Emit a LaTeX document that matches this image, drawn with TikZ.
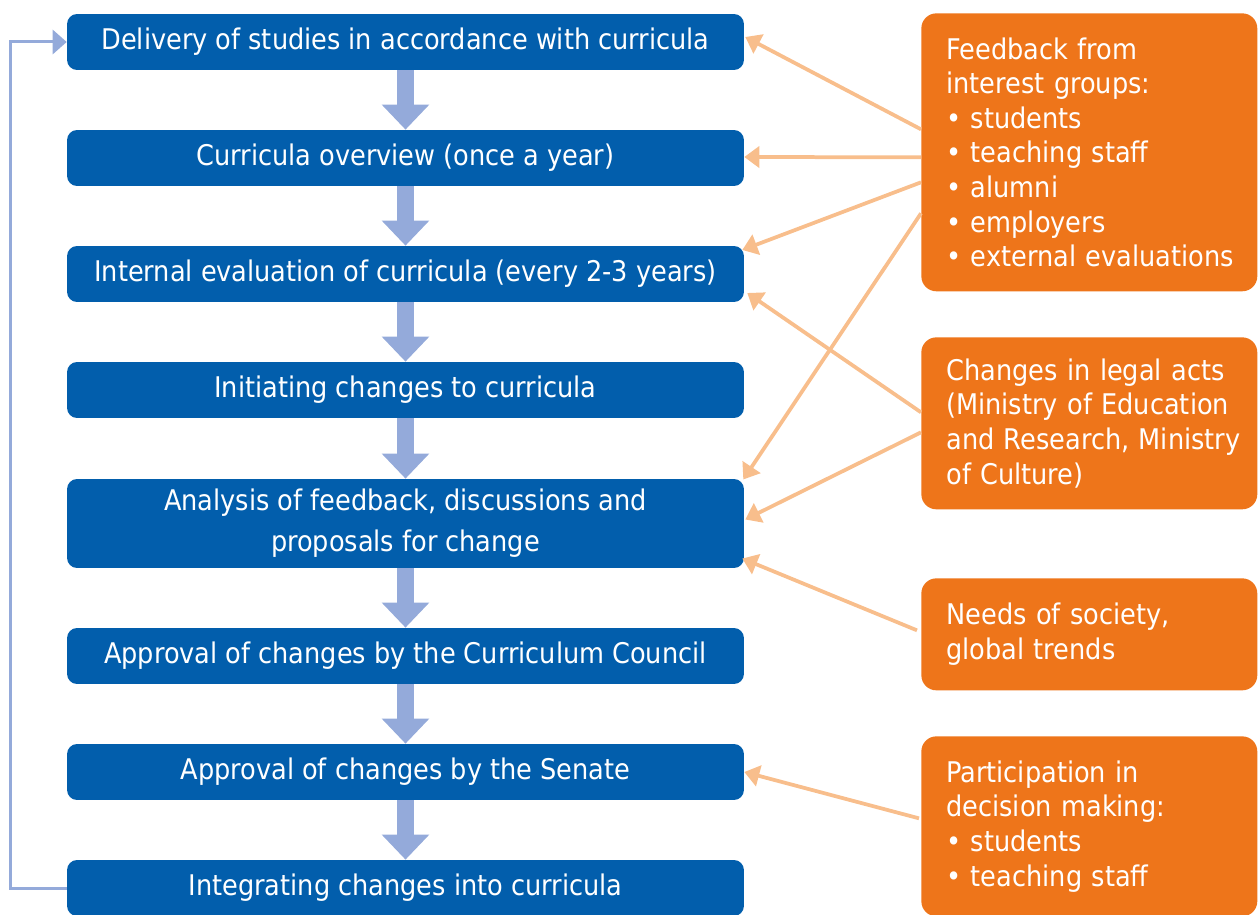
\documentclass[tikz,border=0pt]{standalone}
\usepackage{fontspec}
\setmainfont{DejaVu Sans Condensed}
\usetikzlibrary{arrows.meta,calc}

\definecolor{boxblue}{RGB}{2,94,172}
\definecolor{boxorange}{RGB}{238,117,26}
\definecolor{flowblue}{RGB}{148,170,218}
\definecolor{linkorange}{RGB}{248,190,140}

\begin{document}
\begin{tikzpicture}[x=0.02cm, y=-0.02cm,
		stepbox/.style={rectangle,rounded corners=0.2cm,fill=boxblue,text=white,
			minimum width=13.54cm,minimum height=1.12cm,inner sep=0pt,align=center,
			font=\fontsize{16.2}{23.3}\selectfont},
		srcbox/.style={rectangle,rounded corners=0.3cm,fill=boxorange,text=white,
			anchor=north west,minimum width=6.72cm,text width=5.72cm,inner xsep=0.5cm,
			align=left,font=\fontsize{16.2}{19.7}\selectfont},
		flow_style/.style={draw=flowblue,line width=0.34cm,
			-{Triangle[width=0.92cm,length=0.5cm]}},
		loop_style/.style={draw=flowblue,line width=0.06cm,
			-{Triangle[width=0.48cm,length=0.28cm]}},
		link_style/.style={draw=linkorange,line width=0.075cm,
			-{Triangle[width=0.42cm,length=0.3cm]}}]
		
		\useasboundingbox (0,0) rectangle (1258,915);
		
		\node[stepbox] (s1) at (405.5,42)  {Delivery of studies in accordance with curricula};
		\node[stepbox] (s2) at (405.5,158) {Curricula overview (once a year)};
		\node[stepbox] (s3) at (405.5,274) {Internal evaluation of curricula (every 2-3 years)};
		\node[stepbox] (s4) at (405.5,390) {Initiating changes to curricula};
		\node[stepbox,minimum height=1.78cm] (s5) at (405.5,523.5) {Analysis of feedback, discussions and\\proposals for change};
		\node[stepbox] (s6) at (405.5,656) {Approval of changes by the Curriculum Council};
		\node[stepbox] (s7) at (405.5,772) {Approval of changes by the Senate};
		\node[stepbox] (s8) at (405.5,888) {Integrating changes into curricula};
		
		\node[srcbox,minimum height=5.56cm] (fb) at (921,13) {Feedback from\\interest groups:\\• students\\• teaching staff\\• alumni\\• employers\\\mbox{• external evaluations}};
		\node[srcbox,minimum height=3.44cm] (lg) at (921,337) {Changes in legal acts\\\mbox{(Ministry of Education}\\\mbox{and Research, Ministry}\\of Culture)};
		\node[srcbox,minimum height=2.24cm] (ns) at (921,578) {Needs of society,\\global trends};
		\node[srcbox,minimum height=3.6cm] (pd) at (921,736) {Participation in\\decision making:\\• students\\• teaching staff};
		
		% main flow
		\foreach \a/\b in {s1/s2,s2/s3,s3/s4,s4/s5,s5/s6,s6/s7,s7/s8}
			\draw[flow_style] (\a.south) -- (\b.north);
		
		% back to the start
		\draw[loop_style] (s8.west) -- ++(-56,0) |- (s1.west);
		
		% inputs
		\draw[link_style] ([shift={(0,-23)}]fb.west) -- ([shift={(1,-5)}]s1.east);
		\draw[link_style] ([shift={(0,5)}]fb.west) -- ([shift={(0,-1)}]s2.east);
		\draw[link_style] ([shift={(0,30)}]fb.west) -- ([shift={(-2,-24)}]s3.east);
		\draw[link_style] ([shift={(0,61)}]fb.west) -- ([shift={(-1,-44)}]s5.east);
		\draw[link_style] ([shift={(0,-11)}]lg.west) -- ([shift={(3,19)}]s3.east);
		\draw[link_style] ([shift={(0,9)}]lg.west) -- ([shift={(1,-4)}]s5.east);
		\draw[link_style] ([shift={(-4,-4)}]ns.west) -- ([shift={(-2,35)}]s5.east);
		\draw[link_style] ([shift={(-2,-8)}]pd.west) -- (s7.east);
		
\end{tikzpicture}
\end{document}
